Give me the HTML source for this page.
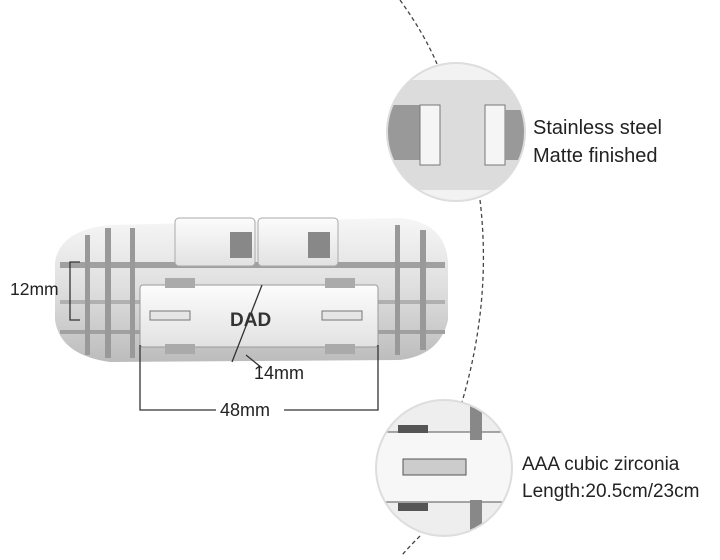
<!DOCTYPE html>
<html><head><style>
body{margin:0;width:720px;height:555px;background:#fff;overflow:hidden;font-family:"Liberation Sans",sans-serif}
</style></head><body>
<svg width="720" height="555" viewBox="0 0 720 555" xmlns="http://www.w3.org/2000/svg">
<defs>
<linearGradient id="m" x1="0" y1="0" x2="0" y2="1">
<stop offset="0" stop-color="#f6f6f6"/><stop offset=".5" stop-color="#dedede"/><stop offset="1" stop-color="#bcbcbc"/></linearGradient>
<linearGradient id="p" x1="0" y1="0" x2="0" y2="1">
<stop offset="0" stop-color="#fcfcfc"/><stop offset="1" stop-color="#e2e2e2"/></linearGradient>
<clipPath id="c1"><circle cx="456" cy="132" r="69"/></clipPath>
<clipPath id="c2"><circle cx="444" cy="468" r="68"/></clipPath>
</defs>
<g fill="none" stroke="#444" stroke-width="1.3" stroke-dasharray="4,3">
<path d="M400 0 Q425 35 437 64"/>
<path d="M480 200 Q492 300 462 402"/>
<path d="M420 536 Q408 548 402 555"/>
</g>
<g>
<path d="M55 262 Q60 230 110 225 L400 218 Q445 222 448 262 L448 320 Q440 355 400 360 L110 362 Q60 355 55 320Z" fill="url(#m)"/>
<rect x="60" y="262" width="385" height="6" fill="#a0a0a0"/>
<rect x="60" y="300" width="385" height="4" fill="#b0b0b0"/>
<rect x="60" y="330" width="385" height="4" fill="#a0a0a0"/>
<g fill="#999">
<rect x="85" y="235" width="5" height="120"/><rect x="105" y="228" width="6" height="130"/>
<rect x="130" y="228" width="5" height="130"/><rect x="395" y="225" width="5" height="130"/>
<rect x="420" y="230" width="6" height="120"/>
</g>
<rect x="175" y="218" width="80" height="48" rx="4" fill="url(#p)" stroke="#aaa"/>
<rect x="258" y="218" width="80" height="48" rx="4" fill="url(#p)" stroke="#aaa"/>
<rect x="230" y="232" width="22" height="26" fill="#888"/><rect x="308" y="232" width="22" height="26" fill="#888"/>
<rect x="140" y="285" width="238" height="62" rx="3" fill="url(#p)" stroke="#999"/>
<rect x="165" y="278" width="30" height="10" fill="#aaa"/><rect x="325" y="278" width="30" height="10" fill="#aaa"/>
<rect x="165" y="344" width="30" height="10" fill="#aaa"/><rect x="325" y="344" width="30" height="10" fill="#aaa"/>
<rect x="150" y="311" width="40" height="9" fill="#e5e5e5" stroke="#777"/>
<rect x="322" y="311" width="40" height="9" fill="#e5e5e5" stroke="#777"/>
<text x="230" y="326" font-size="19" font-weight="bold" fill="#333">DAD</text>
</g>
<g stroke="#333" stroke-width="1.3" fill="none">
<path d="M80 262 H70 V320 H80"/>
<path d="M140 345 V410 H216 M284 410 H378 V345"/>
<path d="M262 285 L232 362"/>
<path d="M246 355 L262 368"/>
</g>
<text x="10" y="295" font-size="17.5" fill="#222">12mm</text>
<text x="254" y="379" font-size="18" fill="#222">14mm</text>
<text x="220" y="416" font-size="18" fill="#222">48mm</text>
<g clip-path="url(#c1)">
<rect x="380" y="55" width="150" height="160" fill="#f2f2f2"/>
<rect x="380" y="80" width="150" height="110" fill="#dcdcdc"/>
<rect x="380" y="105" width="40" height="55" fill="#999"/>
<rect x="420" y="105" width="20" height="60" fill="#f5f5f5" stroke="#777"/>
<rect x="485" y="105" width="20" height="60" fill="#f5f5f5" stroke="#777"/>
<rect x="505" y="110" width="30" height="50" fill="#999"/>
</g>
<circle cx="456" cy="132" r="69" fill="none" stroke="#ddd" stroke-width="2"/>
<g clip-path="url(#c2)">
<rect x="370" y="395" width="150" height="150" fill="#eee"/>
<rect x="375" y="432" width="150" height="70" fill="#f7f7f7" stroke="#555"/>
<rect x="403" y="459" width="63" height="16" fill="#ccc" stroke="#555"/>
<rect x="470" y="400" width="12" height="40" fill="#888"/>
<rect x="470" y="500" width="12" height="40" fill="#888"/>
<rect x="398" y="425" width="30" height="8" fill="#555"/>
<rect x="398" y="503" width="30" height="8" fill="#555"/>
</g>
<circle cx="444" cy="468" r="68" fill="none" stroke="#ddd" stroke-width="2"/>
<text x="533" y="134" font-size="20" fill="#222">Stainless steel</text>
<text x="533" y="162" font-size="20" fill="#222">Matte finished</text>
<text x="522" y="470" font-size="19" fill="#222">AAA cubic zirconia</text>
<text x="522" y="497" font-size="19" fill="#222">Length:20.5cm/23cm</text>
</svg>
</body></html>
